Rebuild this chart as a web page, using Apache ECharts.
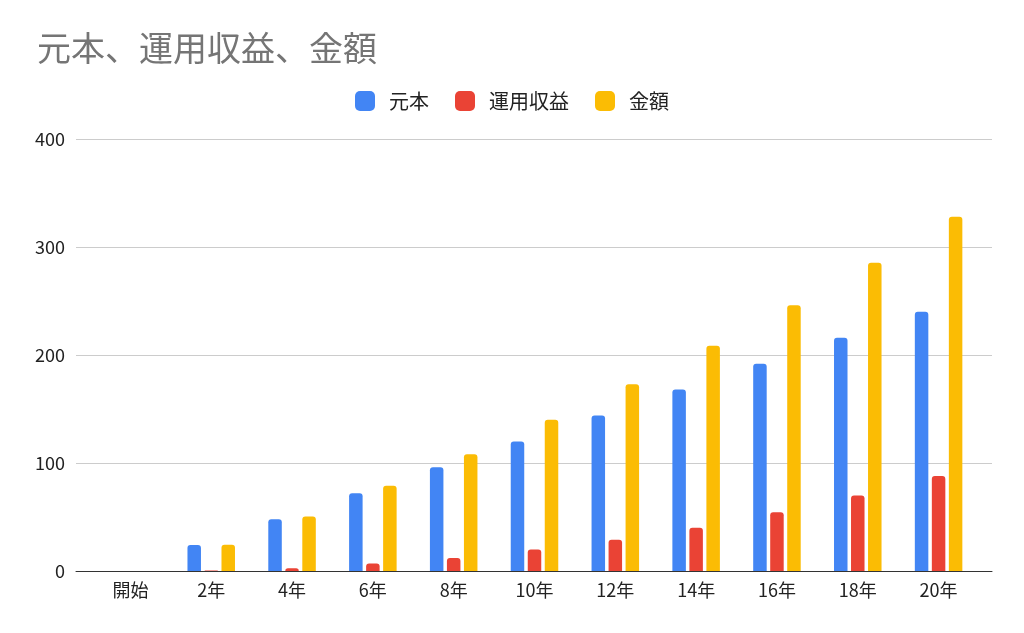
<!DOCTYPE html>
<html><head><meta charset="utf-8">
<script src="https://cdn.jsdelivr.net/npm/echarts@6/dist/echarts.min.js"></script>
<style>html,body{margin:0;padding:0;background:#fff}#c{width:1024px;height:633px}</style>
</head><body><div id="c"></div>
<script>
const categories = ['開始','2年','4年','6年','8年','10年','12年','14年','16年','18年','20年'];
const principal = [0,24,48,72,96,120,144,168,192,216,240];
const returns = [0,0.4,2.5,7,12,20,29,40,54.5,70,88];
const total = [0,24.4,50.5,79,108,140,173,208.5,246,285.5,328];
const yTicks = [0,100,200,300,400];

const font = '"Noto Sans CJK JP", "Liberation Sans", Arial, sans-serif';
const chart = echarts.init(document.getElementById('c'));
const barStyle = (color) => ({ color: color, borderRadius: [3,3,0,0] });
const yMin = yTicks[0], yMax = yTicks[yTicks.length-1];
chart.setOption({
  animation: false,
  textStyle: { fontFamily: font },
  title: {
    text: '元本、運用収益、金額', left: 32, top: 26,
    textStyle: { fontFamily: font, fontSize: 34, fontWeight: 'normal', color: '#757575' }
  },
  legend: {
    top: 86, left: 'center', itemWidth: 20, itemHeight: 20, itemGap: 26,
    icon: 'roundRect',
    textStyle: { fontFamily: font, fontSize: 20, color: '#222', padding: [0,0,0,9] },
    data: ['元本','運用収益','金額']
  },
  grid: [
    { left: 76, right: 32, top: 139, bottom: 62 },
    { left: 90, right: 45, top: 139, bottom: 62 }
  ],
  xAxis: [
    { gridIndex: 0, type: 'category', data: categories,
      axisTick: { show: false }, axisLabel: { show: false },
      axisLine: { lineStyle: { color: '#333', width: 1 } }, z: 5 },
    { gridIndex: 1, type: 'category', data: categories,
      axisTick: { show: false }, axisLine: { show: false },
      axisLabel: { fontFamily: font, fontSize: 18, color: '#222', margin: 10 } }
  ],
  yAxis: [
    { gridIndex: 0, type: 'value', min: yMin, max: yMax, interval: 100,
      axisLine: { show: false }, axisTick: { show: false },
      splitLine: { lineStyle: { color: '#cccccc' } },
      axisLabel: { fontFamily: font, fontSize: 18, color: '#222', margin: 11 } },
    { gridIndex: 1, type: 'value', min: yMin, max: yMax, interval: 100,
      axisLine: { show: false }, axisTick: { show: false },
      splitLine: { show: false }, axisLabel: { show: false } }
  ],
  series: [
    { name: '元本', type: 'bar', xAxisIndex: 1, yAxisIndex: 1, data: principal, barWidth: 13.5, barGap: '26%', itemStyle: barStyle('#4285f4') },
    { name: '運用収益', type: 'bar', xAxisIndex: 1, yAxisIndex: 1, data: returns, barWidth: 13.5, barGap: '26%', itemStyle: barStyle('#ea4335') },
    { name: '金額', type: 'bar', xAxisIndex: 1, yAxisIndex: 1, data: total, barWidth: 13.5, barGap: '26%', itemStyle: barStyle('#fbbc04') }
  ]
});
</script></body></html>
